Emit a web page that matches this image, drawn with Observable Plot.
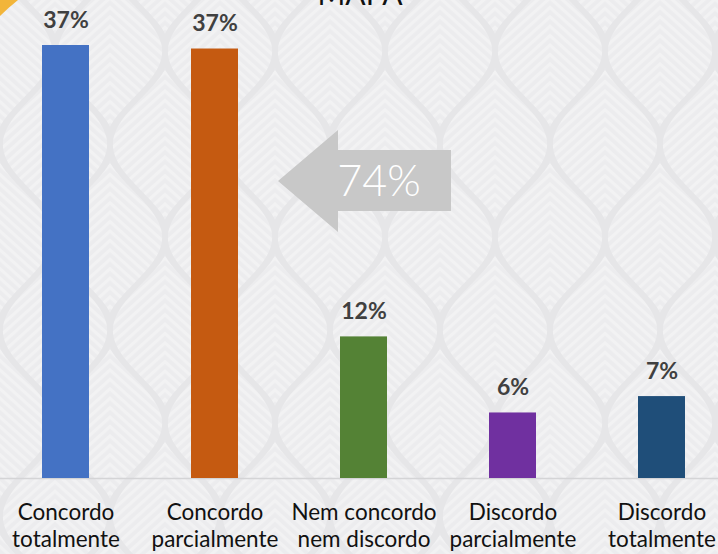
<!DOCTYPE html>
<html>
<head>
<meta charset="utf-8">
<script src="https://cdn.jsdelivr.net/npm/d3@7"></script>
<script src="https://cdn.jsdelivr.net/npm/@observablehq/plot@0.6"></script>
<style>
  html, body { margin: 0; padding: 0; }
  body { width: 718px; height: 554px; overflow: hidden; position: relative; background: #e8e8ea; font-family: Lato, "Open Sans", sans-serif; }
  #bg, #overlay { position: absolute; left: 0; top: 0; }
  #overlay { pointer-events: none; }
  #chart { position: absolute; left: 0; top: 0; }
</style>
</head>
<body>
<svg id="bg" width="718" height="554">
  <defs>
    <pattern id="stripeL" width="7" height="7" patternUnits="userSpaceOnUse" patternTransform="rotate(-42)">
      <rect width="7" height="7" fill="#ececee"/>
      <rect width="7" height="3.3" fill="#f2f2f3"/>
    </pattern>
    <pattern id="stripeR" width="7" height="7" patternUnits="userSpaceOnUse" patternTransform="rotate(42)">
      <rect width="7" height="7" fill="#ececee"/>
      <rect width="7" height="3.3" fill="#f2f2f3"/>
    </pattern>
    <symbol id="leaf" overflow="visible">
      <path id="leafR" fill="url(#stripeR)"/>
      <path id="leafL" fill="url(#stripeL)"/>
    </symbol>
    <pattern id="leaves" width="110" height="186" patternUnits="userSpaceOnUse" x="0" y="43">
      <use href="#leaf" x="55" y="93"/>
      <use href="#leaf" x="0" y="0"/>
      <use href="#leaf" x="110" y="0"/>
      <use href="#leaf" x="0" y="186"/>
      <use href="#leaf" x="110" y="186"/>
    </pattern>
  </defs>
  <rect width="718" height="554" fill="#e6e6e8"/>
  <rect width="718" height="554" fill="url(#leaves)"/>
</svg>
<div id="chart"></div>
<svg id="overlay" width="718" height="554">
  <path d="M0,0 H18 Q8,8 0,16 Z" fill="#f2b53a"/>
  <text x="360" y="5" text-anchor="middle" font-family="Lato, sans-serif" font-size="30" fill="#111">MAPA</text>
  <polygon points="278,181 338,130 338,150 451,150 451,211 338,211 338,232" fill="#c8c8c8"/>
  <text x="379" y="196" text-anchor="middle" font-family="Lato, sans-serif" font-weight="300" font-size="43" fill="#ffffff">74%</text>
</svg>
<script>
// --- decorative wallpaper leaf outline (background only) ---
(function () {
  const gap = 4, b = 8;
  const right = [], left = [];
  for (let dy = -93; dy <= 93; dy += 3) {
    const u = dy / 93;
    const w = Math.max(0, 27.5 * (1 + Math.cos(Math.PI * u)) + b * Math.sin(Math.PI * u) - gap);
    right.push([w, dy]);
    left.push([-w, dy]);
  }
  const toPath = pts => "M0,-93 " + pts.map(p => "L" + p[0].toFixed(1) + "," + p[1]).join(" ") + " L0,93 Z";
  document.getElementById("leafR").setAttribute("d", toPath(right));
  document.getElementById("leafL").setAttribute("d", toPath(left));
})();

// --- chart data ---
const categories = [
  "Concordo\ntotalmente",
  "Concordo\nparcialmente",
  "Nem concordo\nnem discordo",
  "Discordo\nparcialmente",
  "Discordo\ntotalmente"
];
const values = [37.0, 36.7, 12.1, 5.6, 7.0];
const valueLabels = ["37%", "37%", "12%", "6%", "7%"];
const barColors = ["#4472c4", "#c55a11", "#548235", "#7030a0", "#1f4e79"];

const data = categories.map((c, i) => ({cat: c, value: values[i], label: valueLabels[i], color: barColors[i]}));

const chart = Plot.plot({
  width: 718,
  height: 554,
  marginTop: 45,
  marginBottom: 76,
  marginLeft: 0,
  marginRight: 0,
  style: {background: "transparent", fontFamily: "Lato, sans-serif"},
  x: {domain: categories, range: [9, 718], paddingInner: 0.686, paddingOuter: 0.2126, axis: null},
  y: {domain: [0, 37], axis: null},
  color: {type: "identity"},
  marks: [
    Plot.ruleY([0], {stroke: "#d4d4d6", strokeWidth: 1.5}),
    Plot.barY(data, {x: "cat", y: "value", fill: "color"}),
    Plot.text(data, {x: "cat", y: "value", text: "label", dy: -18, lineAnchor: "bottom", fontSize: 23, fontWeight: "bold", fill: "#404040"}),
    Plot.axisX({tickSize: 0, tickPadding: 22, fontSize: 22.5, lineHeight: 1.2, fill: "#111", label: null, textStroke: "none"})
  ]
});
document.getElementById("chart").appendChild(chart);
</script>
</body>
</html>
